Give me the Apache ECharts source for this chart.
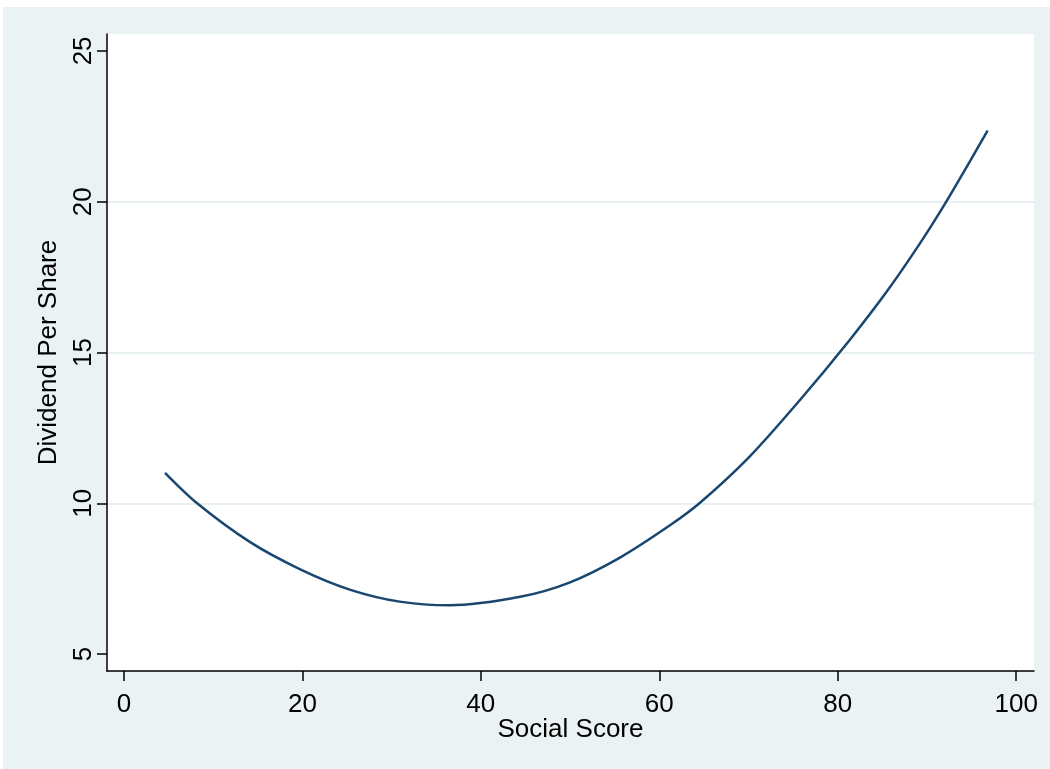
<!DOCTYPE html>
<html>
<head>
<meta charset="utf-8">
<script src="https://cdn.jsdelivr.net/npm/echarts@6/dist/echarts.min.js"></script>
<style>
html,body{margin:0;padding:0;background:#ffffff;}
#bg{position:absolute;left:3px;top:7px;width:1047px;height:762px;background:#eaf2f3;}
#chart{position:absolute;left:0;top:0;width:1050px;height:769px;}
</style>
</head>
<body>
<div id="bg"></div>
<div id="chart"></div>
<script>
// Data
const socialScore = [4.6, 8.2, 14.1, 19.7, 25.3, 30.9, 36.5, 44.4, 50.0, 55.6, 61.2, 64.5, 70.1, 75.7, 81.3, 85.5, 89.2, 92.0, 94.8, 96.8];
const dividendPerShare = [11.01, 10.00, 8.72, 7.82, 7.14, 6.74, 6.62, 6.90, 7.38, 8.20, 9.27, 10.00, 11.54, 13.40, 15.40, 17.02, 18.61, 19.92, 21.33, 22.36];
const xTickLabels = [0, 20, 40, 60, 80, 100];
const yTickLabels = [5, 10, 15, 20, 25];
const xTitle = 'Social Score';
const yTitle = 'Dividend Per Share';

const font = '"Liberation Sans", Arial, Helvetica, sans-serif';
const chart = echarts.init(document.getElementById('chart'), null, {renderer: 'canvas'});
const points = socialScore.map((x, i) => [x, dividendPerShare[i]]);

chart.setOption({
  animation: false,
  backgroundColor: 'transparent',
  grid: {
    left: 107, top: 34, right: 16, bottom: 98,
    show: true, backgroundColor: '#ffffff', borderWidth: 0
  },
  xAxis: {
    type: 'value',
    min: -1.9, max: 102,
    name: xTitle,
    nameLocation: 'middle',
    nameGap: 46,
    nameMoveOverlap: false,
    nameTextStyle: {fontFamily: font, fontSize: 26, color: '#000'},
    axisLine: {show: true, onZero: false, lineStyle: {color: '#000', width: 1.5}},
    axisTick: {show: true, length: 10, lineStyle: {color: '#000', width: 1.5}, customValues: xTickLabels},
    axisLabel: {fontFamily: font, fontSize: 26, color: '#000', margin: 21, customValues: xTickLabels},
    splitLine: {show: false}
  },
  yAxis: {
    type: 'value',
    min: 4.44, max: 25.56,
    name: yTitle,
    nameLocation: 'middle',
    nameRotate: 90,
    nameGap: 45,
    nameMoveOverlap: false,
    nameTextStyle: {fontFamily: font, fontSize: 26, color: '#000'},
    axisLine: {show: true, onZero: false, lineStyle: {color: '#000', width: 1.5}},
    axisTick: {show: true, length: 10, lineStyle: {color: '#000', width: 1.5}, customValues: yTickLabels},
    axisLabel: {fontFamily: font, fontSize: 26, color: '#000', margin: 10, rotate: 90, customValues: yTickLabels},
    splitLine: {show: true, showMinLine: false, showMaxLine: false, lineStyle: {color: '#e8f0f2', width: 2}}
  },
  series: [{
    type: 'line',
    data: points,
    smooth: 0.3,
    showSymbol: false,
    symbol: 'none',
    lineStyle: {color: '#1a476f', width: 2.5},
    itemStyle: {color: '#1a476f'}
  }]
});
</script>
</body>
</html>
